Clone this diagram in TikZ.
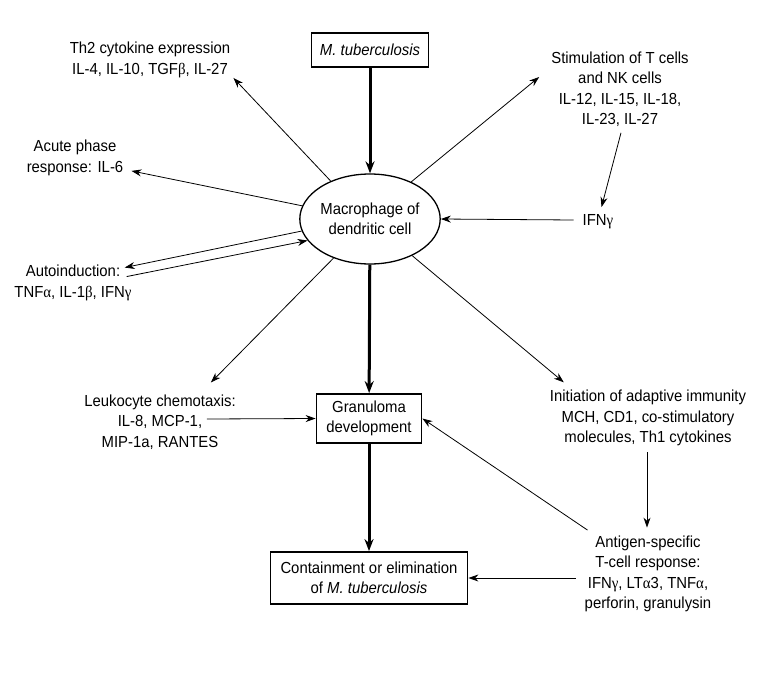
\documentclass[tikz,border=0pt]{standalone}
\usepackage{fontspec}
\setmainfont{Liberation Sans}[FakeStretch=0.93]
\newfontfamily\greekfont{Liberation Serif}[FakeStretch=0.93]
\newcommand{\gk}[1]{{\greekfont #1}}
\usetikzlibrary{arrows.meta,shapes.geometric}

\begin{document}
\begin{tikzpicture}[x=1pt,y=-1pt,
    every node/.style={font=\fontsize{16}{20.5}\selectfont,align=center,inner sep=0pt},
    box/.style={draw,line width=1.8pt},
    arr/.style={line width=0.8pt,-{Stealth[length=10pt,width=7pt]}},
    bigarr/.style={line width=3pt,-{Stealth[length=12pt,width=9pt]}}]
        \useasboundingbox (0,0) rectangle (784,682);
        \node[box,minimum width=117pt,minimum height=34pt] (tb) at (370,50) {\itshape M. tuberculosis};
        \node[draw,ellipse,line width=1.3pt,minimum width=126pt,minimum height=90pt] (mac) at (370,219) {Macrophage of\\dendritic cell};
        \node[box,minimum width=105pt,minimum height=49pt] (gran) at (369,418.5) {Granuloma\\development};
        \node[box,minimum width=197pt,minimum height=52pt] (cont) at (369,578) {Containment or elimination\\of \textit{M. tuberculosis}};
        \node (th2) at (150,60) {Th2 cytokine expression\\IL-4, IL-10, TGF\gk{β}, IL-27};
        \node (acute) at (75,158) {Acute phase\\response: IL-6};
        \node (auto) at (73,283) {Autoinduction:\\TNF\gk{α}, IL-1\gk{β}, IFN\gk{γ}};
        \node (leuk) at (160,422) {Leukocyte chemotaxis:\\IL-8, MCP-1,\\MIP-1a, RANTES};
        \node (stim) at (620,89) {Stimulation of T cells\\and NK cells\\IL-12, IL-15, IL-18,\\IL-23, IL-27};
        \node (ifn) at (598,221.5) {IFN\gk{γ}};
        \node (init) at (648,418) {Initiation of adaptive immunity\\MCH, CD1, co-stimulatory\\molecules, Th1 cytokines};
        \node (anti) at (648,574) {Antigen-specific\\T-cell response:\\IFN\gk{γ}, LT\gk{α}3, TNF\gk{α},\\perforin, granulysin};
        \draw[bigarr] (tb) -- (mac);
        \draw[bigarr] (mac) -- (gran);
        \draw[bigarr] (gran) -- (cont);
        \draw[arr] (mac.136) -- ([shift={(3,0)}]th2.south east);
        \draw[arr] (mac.169) -- ([shift={(8,-5)}]acute.south east);
        \draw[arr] (mac.190) -- ([shift={(-7,2.5)}]auto.north east);
        \draw[arr] ([shift={(-5,11.5)}]auto.north east) -- (mac.199);
        \draw[arr] (mac.227) -- ([shift={(-25,-12)}]leuk.north east);
        \draw[arr] ([shift={(-29,-3)}]leuk.east) -- (gran.west);
        \draw[arr] (mac.42) -- ([shift={(-12,-12)}]stim.west);
        \draw[arr] ([shift={(1,6)}]stim.south) -- ([shift={(3.5,-7)}]ifn.north);
        \draw[arr] ([shift={(-9,-1.5)}]ifn.west) -- (mac.east);
        \draw[arr] (mac.-41) -- ([shift={(14,-7.5)}]init.north west);
        \draw[arr] ([shift={(-1,6)}]init.south) -- ([shift={(-1,-8)}]anti.north);
        \draw[arr] ([shift={(3,-5.5)}]anti.north west) -- (gran.east);
        \draw[arr] ([shift={(-9,4)}]anti.west) -- (cont.east);
\end{tikzpicture}
\end{document}
